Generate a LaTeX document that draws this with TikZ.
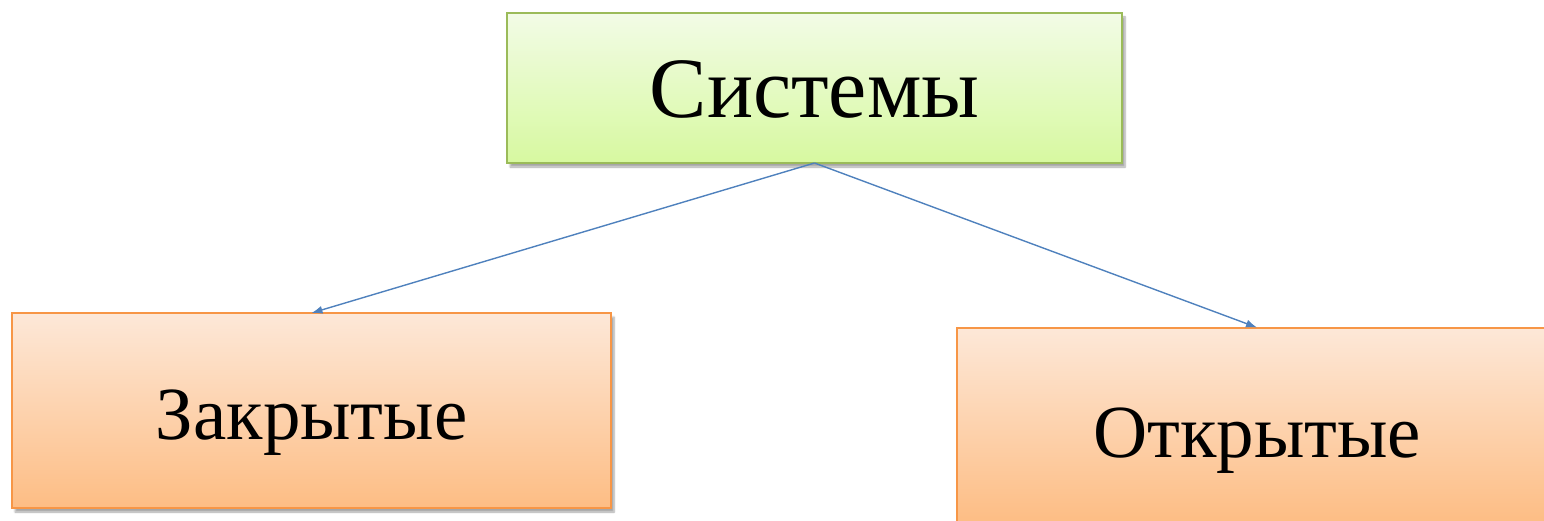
\documentclass[tikz,border=0pt]{standalone}
\usepackage{fontspec}
\setmainfont{Liberation Serif}
\usetikzlibrary{arrows.meta,shadows.blur}
\definecolor{greenedge}{HTML}{9BBB59}
\definecolor{greentop}{HTML}{F2FBE6}
\definecolor{greenbot}{HTML}{D7F9A0}
\definecolor{orangeedge}{HTML}{F79646}
\definecolor{orangetop}{HTML}{FDE8D8}
\definecolor{orangebot}{HTML}{FDBD84}
\definecolor{linkblue}{HTML}{4F81BD}
\tikzset{
  box/.style={rectangle, line width=2pt, inner sep=0pt, outer sep=0pt,
    blur shadow={shadow xshift=3pt, shadow yshift=-4pt, shadow blur steps=6, shadow opacity=35},
    text depth=0pt},
  rootbox/.style={box, draw=greenedge, top color=greentop, bottom color=greenbot,
    font=\fontsize{86}{100}\selectfont, text height=60pt},
  leafbox/.style={box, draw=orangeedge, top color=orangetop, bottom color=orangebot,
    font=\fontsize{75}{90}\selectfont},
  link/.style={draw=linkblue, line width=1.4pt, -{Latex[length=11pt,width=8pt]}}
}
\begin{document}
\begin{tikzpicture}[x=1pt,y=-1pt]
  \useasboundingbox (0,0) rectangle (1544,521);
  \clip (0,0) rectangle (1544,521);
  \node[rootbox, minimum width=615pt, minimum height=150pt] (sys) at (814.5,88) {Системы};
  \node[leafbox, text height=57pt, minimum width=599pt, minimum height=195pt] (closed) at (311.5,410.5) {Закрытые};
  \node[leafbox, text height=64pt, minimum width=600pt, minimum height=195pt] (open) at (1257,425) {Открытые};
  \draw[link] (sys.south) -- (closed.north);
  \draw[link] (sys.south) -- (open.north);
\end{tikzpicture}
\end{document}
